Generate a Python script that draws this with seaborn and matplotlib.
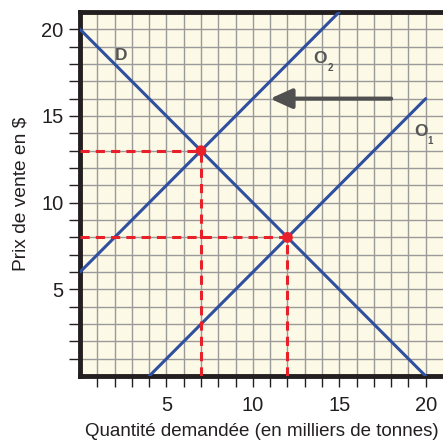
"""Offre et demande : déplacement de la courbe d'offre."""

import matplotlib.pyplot as plt
import numpy as np
import pandas as pd
import seaborn as sns

# courbes (points extrêmes)
DEMAND_Q = [0, 20]
DEMAND_P = [20, 0]
SUPPLY1_Q = [4, 20]
SUPPLY1_P = [0, 16]
SUPPLY2_Q = [0, 15]
SUPPLY2_P = [6, 21]

# points d'équilibre
EQ_Q = [7, 12]
EQ_P = [13, 8]

ARROW_Q = [18, 11]
ARROW_P = 16

TICKS = [5, 10, 15, 20]

BLUE = "#2f4f9f"
RED = "#e8202a"
LABEL_GREY = "#555555"
INK = "#231f20"

sns.set_theme(style="ticks")
plt.rcParams["font.family"] = ["Liberation Sans", "DejaVu Sans"]

curves = pd.concat(
    [
        pd.DataFrame({"Q": DEMAND_Q, "P": DEMAND_P, "curve": "D"}),
        pd.DataFrame({"Q": SUPPLY1_Q, "P": SUPPLY1_P, "curve": "O1"}),
        pd.DataFrame({"Q": SUPPLY2_Q, "P": SUPPLY2_P, "curve": "O2"}),
    ],
    ignore_index=True,
)

fig = plt.figure(figsize=(4.43, 4.42), dpi=100)
ax = fig.add_axes([0.1806, 0.149, 0.8194, 0.824])
ax.set_facecolor("#fdf9e7")

ax.set_xlim(0, 21)
ax.set_ylim(0, 21)
ax.set_xticks(np.arange(1, 21), minor=True)
ax.set_yticks(np.arange(1, 21), minor=True)
ax.set_xticks(TICKS)
ax.set_yticks(TICKS)
ax.grid(which="both", color="#9a9a9a", linewidth=1.0)
ax.set_axisbelow(True)

sns.lineplot(
    data=curves, x="Q", y="P", units="curve", estimator=None,
    color=BLUE, linewidth=2.2, ax=ax, legend=False, zorder=3,
)

for q, p in zip(EQ_Q, EQ_P):
    ax.plot([0, q], [p, p], color=RED, linestyle=(0, (3, 2)), linewidth=2.2, zorder=4)
    ax.plot([q, q], [0, p], color=RED, linestyle=(0, (3, 2)), linewidth=2.2, zorder=4)
sns.scatterplot(x=EQ_Q, y=EQ_P, color=RED, s=60, edgecolor="none", ax=ax, zorder=5)

ax.annotate(
    "", xy=(ARROW_Q[1], ARROW_P), xytext=(ARROW_Q[0], ARROW_P),
    arrowprops=dict(arrowstyle="-|>,head_length=1.1,head_width=0.5", color="#505050",
                    linewidth=3, shrinkA=0, shrinkB=0),
    zorder=6,
)

label_kw = dict(color=LABEL_GREY, fontweight="bold", fontsize=12.5, ha="center", va="center", zorder=6)
sub_kw = dict(color=LABEL_GREY, fontweight="bold", fontsize=7, ha="center", va="center", zorder=6)
ax.text(2.4, 18.5, "D", **label_kw)
ax.text(13.9, 18.3, "O", **label_kw)
ax.text(14.5, 17.75, "2", **sub_kw)
ax.text(19.7, 14.1, "O", **label_kw)
ax.text(20.25, 13.55, "1", **sub_kw)

for side in ["left", "bottom", "top"]:
    ax.spines[side].set_linewidth(3.5)
    ax.spines[side].set_color(INK)
ax.spines["right"].set_visible(False)

ax.tick_params(which="both", direction="out", length=8, width=1, color=INK,
               labelsize=14.5, labelcolor=INK, top=False)
ax.tick_params(axis="x", pad=6)
ax.tick_params(axis="y", pad=4)
ax.set_xlabel("Quantité demandée (en milliers de tonnes)", fontsize=13.5, color=INK, labelpad=6)
ax.set_ylabel("Prix de vente en $", fontsize=13.8, color=INK, labelpad=8)

fig.savefig("out.png", dpi=100, facecolor="white")
